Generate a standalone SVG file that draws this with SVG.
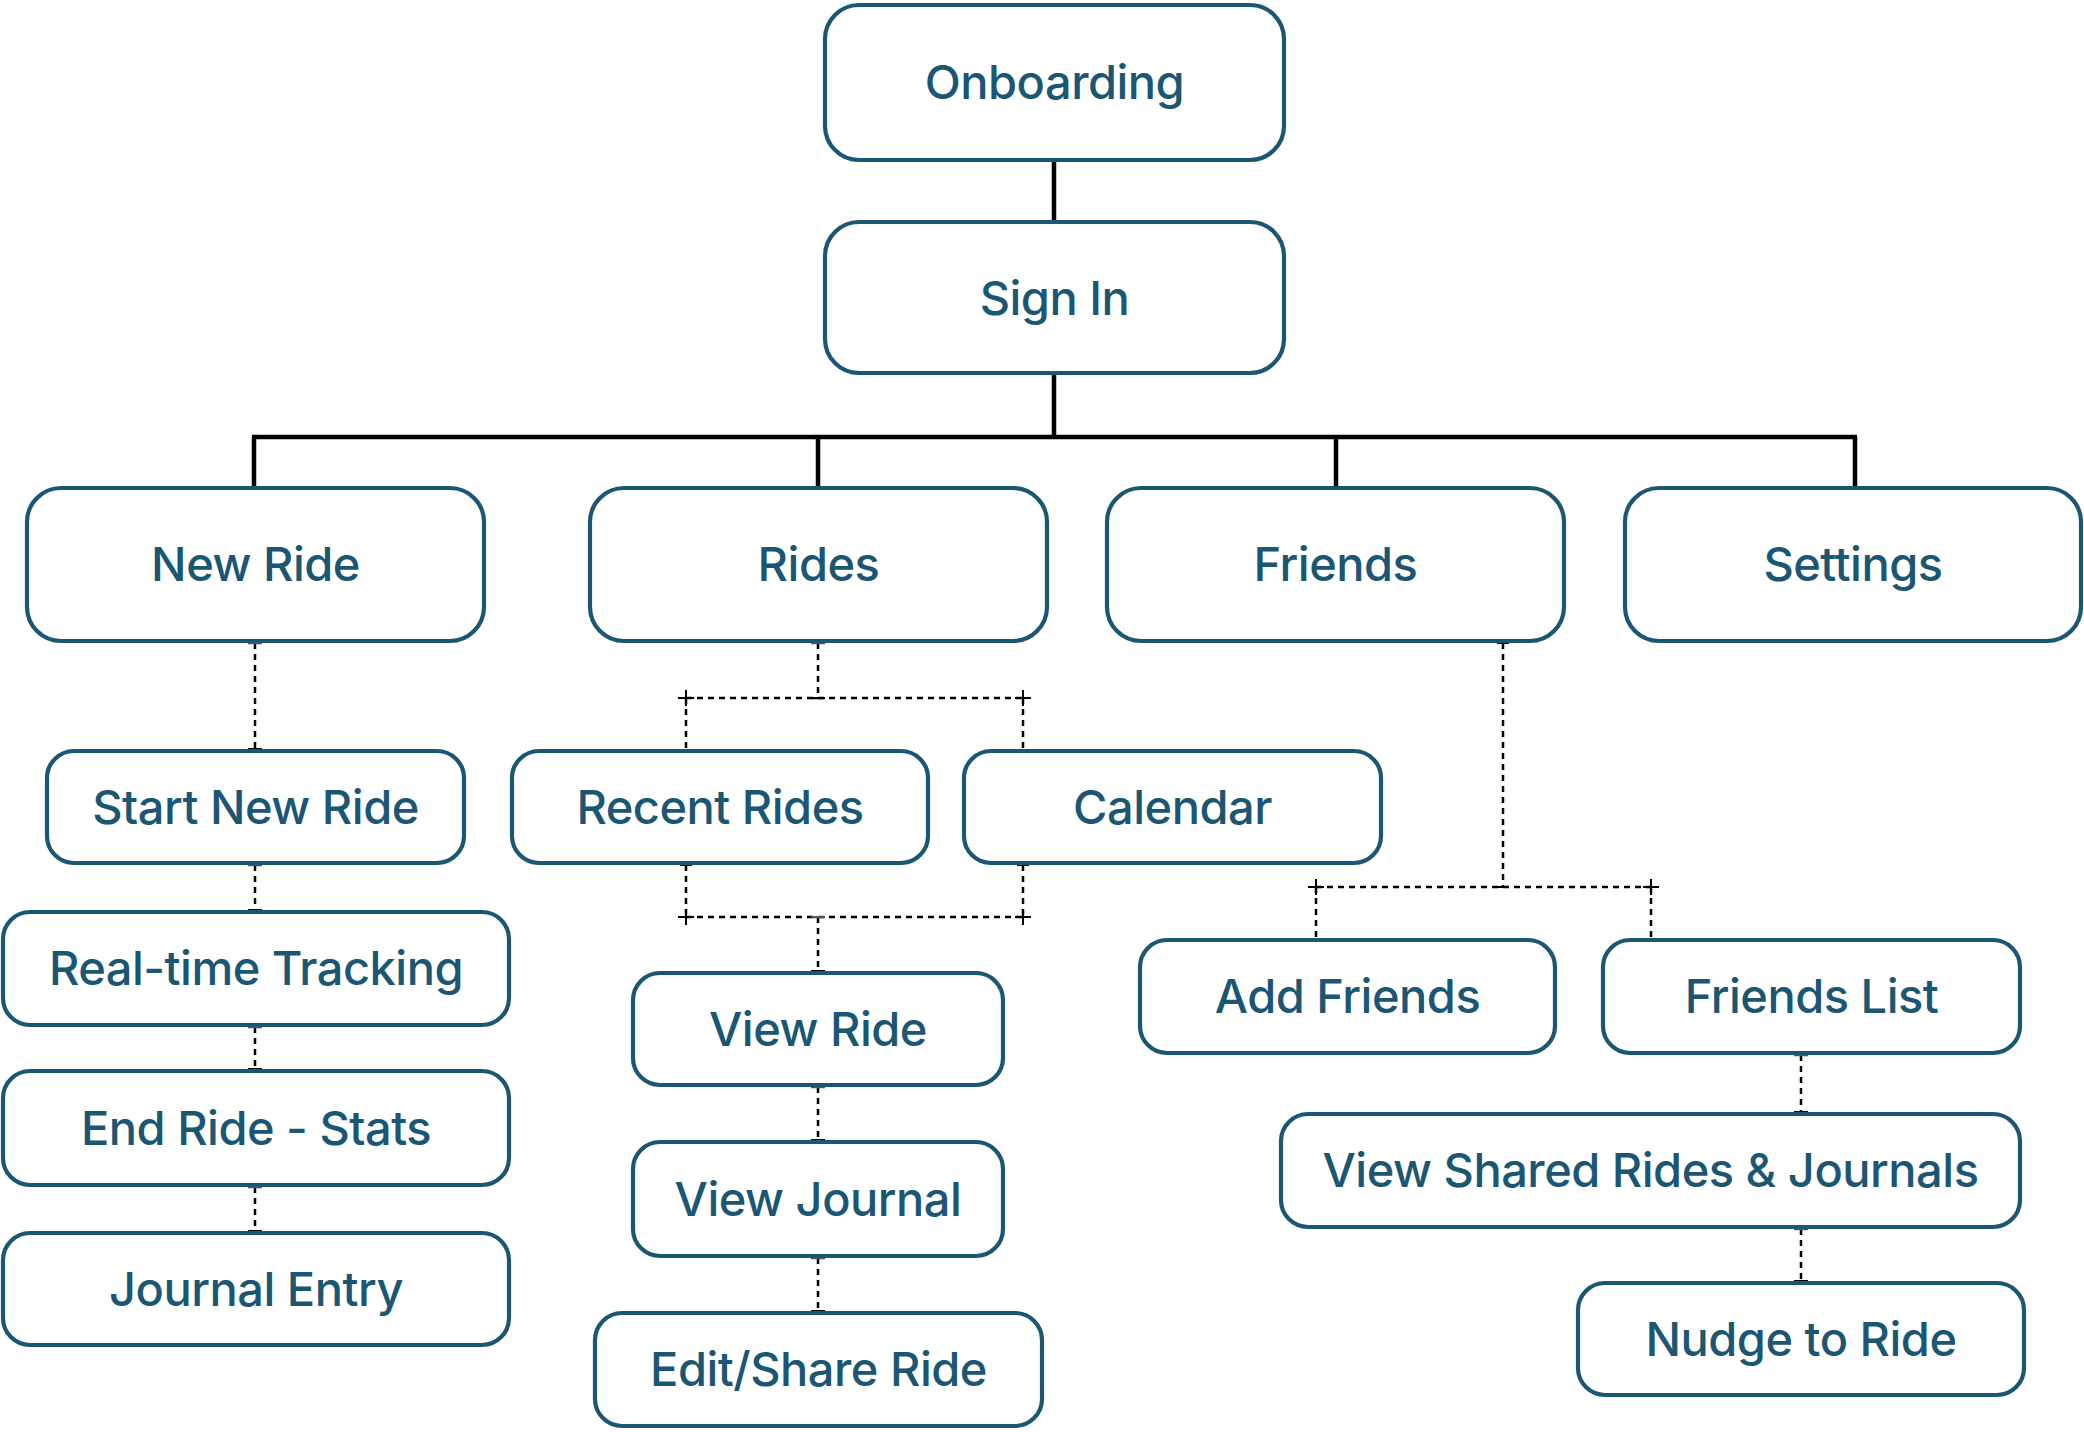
<svg xmlns="http://www.w3.org/2000/svg" xmlns:xlink="http://www.w3.org/1999/xlink" width="2084" height="1432" viewBox="0 0 2084 1432">
<style>
.box{fill:#ffffff;stroke:#1b5673;stroke-width:4.2}
.lbl{font-family:Inter,"Noto Sans","Liberation Sans",sans-serif;font-size:47px;font-weight:500;letter-spacing:-0.5px;fill:#1b5673;text-anchor:middle}
.solid{fill:none;stroke:#000000;stroke-width:4.5}
.dash{fill:none;stroke:#000000;stroke-width:2.5;stroke-dasharray:6 5}
.tick{fill:none;stroke:#000000;stroke-width:2}
</style>
<defs>
<marker id="teeEnd" markerUnits="userSpaceOnUse" orient="auto" markerWidth="4" markerHeight="20" refX="1" refY="10" viewBox="0 0 4 20">
<path d="M1,3 V17" stroke="#000" stroke-width="2.5" fill="none"/>
</marker>
<marker id="teeStart" markerUnits="userSpaceOnUse" orient="auto" markerWidth="4" markerHeight="20" refX="1" refY="10" viewBox="0 0 4 20">
<path d="M1,3 V17" stroke="#555" stroke-width="2.5" fill="none"/>
</marker>
<path id="cross" d="M-8,0 H8 M0,-8 V8" stroke="#000" stroke-width="2" fill="none"/>
</defs>

<g id="connectors">
<path class="solid" d="M1054,160 V222 M1054,373 V437 M252,437 H1857 M254,437 V488 M818,437 V488 M1336,437 V488 M1855,437 V488"/>
<path class="dash" d="M255,643 V749" marker-start="url(#teeStart)" marker-end="url(#teeEnd)"/>
<path class="dash" d="M255,865 V910" marker-start="url(#teeStart)" marker-end="url(#teeEnd)"/>
<path class="dash" d="M255,1027 V1069" marker-start="url(#teeStart)" marker-end="url(#teeEnd)"/>
<path class="dash" d="M255,1187 V1231" marker-start="url(#teeStart)" marker-end="url(#teeEnd)"/>
<path class="dash" d="M818,643 V698" marker-start="url(#teeStart)" marker-end="url(#teeEnd)"/>
<path class="dash" d="M686,698 H1023 M686,698 V751 M1023,698 V751"/>
<path class="dash" d="M686,865 V917 M1023,865 V917 M686,917 H1023"/>
<path class="dash" d="M818,917 V971" marker-start="url(#teeStart)" marker-end="url(#teeEnd)"/>
<path class="dash" d="M818,1087 V1140" marker-start="url(#teeStart)" marker-end="url(#teeEnd)"/>
<path class="dash" d="M818,1258 V1311" marker-start="url(#teeStart)" marker-end="url(#teeEnd)"/>
<path class="dash" d="M1503,643 V887 M1316,887 H1651 M1316,887 V940 M1651,887 V940"/>
<path class="dash" d="M1801,1055 V1112" marker-start="url(#teeStart)" marker-end="url(#teeEnd)"/>
<path class="dash" d="M1801,1229 V1281" marker-start="url(#teeStart)" marker-end="url(#teeEnd)"/>
<path class="tick" d="M680,865 H692 M1017,865 H1029 M1497,643 H1509 M1497,887 H1509"/>
<use xlink:href="#cross" x="686" y="698"/>
<use xlink:href="#cross" x="1023" y="698"/>
<use xlink:href="#cross" x="686" y="917"/>
<use xlink:href="#cross" x="1023" y="917"/>
<use xlink:href="#cross" x="1316" y="887"/>
<use xlink:href="#cross" x="1651" y="887"/>
</g>

<g id="onboarding"><rect class="box" x="825" y="5" width="459" height="155" rx="34"/><text class="lbl" x="1054.5" y="99">Onboarding</text></g>
<g id="signin"><rect class="box" x="825" y="222" width="459" height="151" rx="34"/><text class="lbl" x="1054.5" y="315">Sign In</text></g>
<g id="newride"><rect class="box" x="27" y="488" width="457" height="153" rx="34"/><text class="lbl" x="255.5" y="581">New Ride</text></g>
<g id="rides"><rect class="box" x="590" y="488" width="457" height="153" rx="34"/><text class="lbl" x="818.5" y="581">Rides</text></g>
<g id="friends"><rect class="box" x="1107" y="488" width="457" height="153" rx="34"/><text class="lbl" x="1335.5" y="581">Friends</text></g>
<g id="settings"><rect class="box" x="1625" y="488" width="456" height="153" rx="34"/><text class="lbl" x="1853" y="581">Settings</text></g>

<g id="startnewride"><rect class="box" x="47" y="751" width="417" height="112" rx="27"/><text class="lbl" x="255.5" y="824">Start New Ride</text></g>
<g id="recentrides"><rect class="box" x="512" y="751" width="416" height="112" rx="27"/><text class="lbl" x="720" y="824">Recent Rides</text></g>
<g id="calendar"><rect class="box" x="964" y="751" width="417" height="112" rx="27"/><text class="lbl" x="1172.5" y="824">Calendar</text></g>
<g id="realtime"><rect class="box" x="3" y="912" width="506" height="113" rx="27"/><text class="lbl" x="256" y="985">Real-time Tracking</text></g>
<g id="endride"><rect class="box" x="3" y="1071" width="506" height="114" rx="27"/><text class="lbl" x="256" y="1145">End Ride - Stats</text></g>
<g id="journalentry"><rect class="box" x="3" y="1233" width="506" height="112" rx="27"/><text class="lbl" x="256" y="1306">Journal Entry</text></g>
<g id="viewride"><rect class="box" x="633" y="973" width="370" height="112" rx="27"/><text class="lbl" x="818" y="1046">View Ride</text></g>
<g id="viewjournal"><rect class="box" x="633" y="1142" width="370" height="114" rx="27"/><text class="lbl" x="818" y="1216">View Journal</text></g>
<g id="editshare"><rect class="box" x="595" y="1313" width="447" height="113" rx="27"/><text class="lbl" x="818.5" y="1386">Edit/Share Ride</text></g>
<g id="addfriends"><rect class="box" x="1140" y="940" width="415" height="113" rx="27"/><text class="lbl" x="1347.5" y="1013">Add Friends</text></g>
<g id="friendslist"><rect class="box" x="1603" y="940" width="417" height="113" rx="27"/><text class="lbl" x="1811.5" y="1013">Friends List</text></g>
<g id="viewshared"><rect class="box" x="1281" y="1114" width="739" height="113" rx="27"/><text class="lbl" x="1650.5" y="1187">View Shared Rides &amp; Journals</text></g>
<g id="nudge"><rect class="box" x="1578" y="1283" width="446" height="112" rx="27"/><text class="lbl" x="1801" y="1356">Nudge to Ride</text></g>
</svg>
